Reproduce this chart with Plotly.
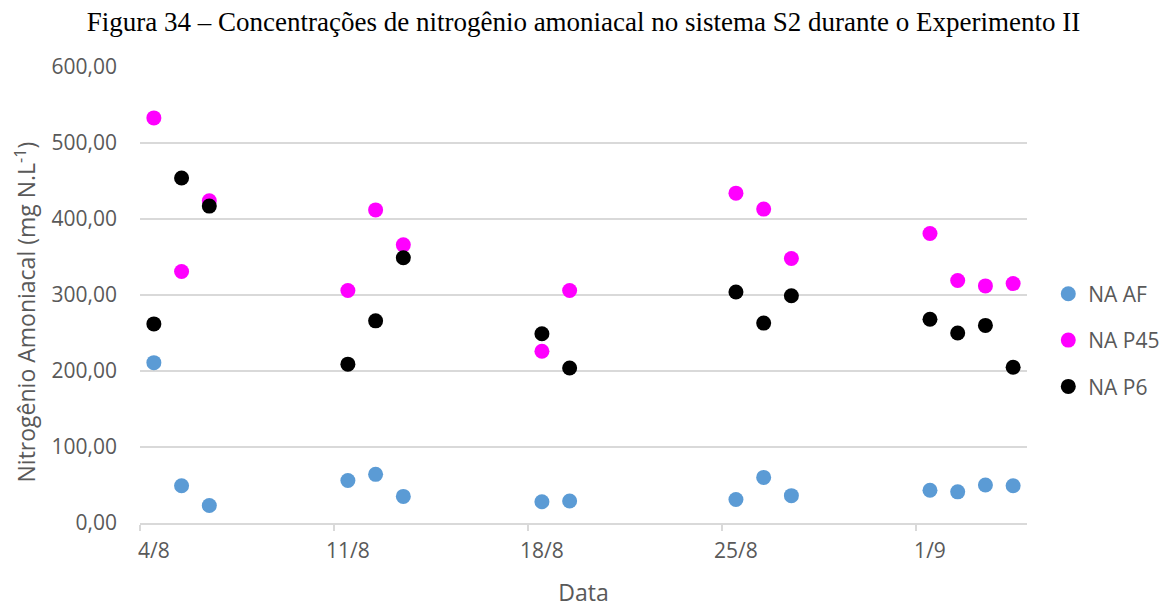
import plotly.graph_objects as go

dates = ["2023-08-04", "2023-08-05", "2023-08-06",
         "2023-08-11", "2023-08-12", "2023-08-13",
         "2023-08-18", "2023-08-19",
         "2023-08-25", "2023-08-26", "2023-08-27",
         "2023-09-01", "2023-09-02", "2023-09-03", "2023-09-04"]

na_af = [211, 49, 23, 56, 64, 35, 28, 29, 31, 60, 36, 43, 41, 50, 49]
na_p45 = [533, 331, 424, 306, 412, 366, 226, 306, 434, 413, 348, 381, 319, 312, 315]
na_p6 = [262, 454, 417, 209, 266, 349, 249, 204, 304, 263, 299, 268, 250, 260, 205]

tick_dates = ["2023-08-04", "2023-08-11", "2023-08-18", "2023-08-25", "2023-09-01"]
tick_labels = ["4/8", "11/8", "18/8", "25/8", "1/9"]

series = [("NA AF", na_af, "#5B9BD5"),
          ("NA P45", na_p45, "#FF00FF"),
          ("NA P6", na_p6, "#000000")]

fig = go.Figure()
for name, vals, color in series:
    fig.add_trace(go.Scatter(
        x=dates, y=vals, mode="markers", name=name, legendgroup=name,
        marker=dict(size=15, color=color, line=dict(width=0)),
    ))

txt = "#595959"
fig.update_layout(
    width=1161, height=600,
    margin=dict(l=132, r=142, t=59, b=85, autoexpand=False),
    paper_bgcolor="white", plot_bgcolor="white",
    separators=",.",
    font=dict(family="Open Sans", size=20, color=txt),
    title=dict(
        text="Figura 34 – Concentrações de nitrogênio amoniacal no sistema S2 durante o Experimento II",
        x=0.5, xref="paper", y=1 - 14 / 600, yref="container", xanchor="center", yanchor="middle",
        font=dict(family="Liberation Serif", size=27, color="black"),
    ),
    legend=dict(
        x=1.024, y=0.401, xanchor="left", yanchor="middle",
        font=dict(family="Open Sans", size=21, color=txt),
        tracegroupgap=16, itemsizing="trace", itemwidth=30,
    ),
    xaxis=dict(
        type="date",
        range=["2023-08-03 12:00", "2023-09-04 12:00"],
        tickvals=tick_dates, ticktext=tick_labels,
        ticks="", showgrid=False, ticklabelstandoff=8,
        showline=True, linecolor="#D9D9D9", linewidth=1.5,
        tickfont=dict(size=21, color=txt),
        minor=dict(ticks="outside", ticklen=6, tickcolor="#D9D9D9", tickwidth=1.5,
                   tick0="2023-08-03 12:00", dtick=7 * 86400000, showgrid=False),
        title=dict(text="Data", font=dict(size=23, color=txt), standoff=24),
        zeroline=False,
    ),
    yaxis=dict(
        range=[0, 600], dtick=100, tick0=0, tickformat=".2f",
        showgrid=True, gridcolor="#D9D9D9", gridwidth=1.5,
        zeroline=False, showline=False,
        ticks="", ticklabelstandoff=22,
        tickfont=dict(size=21, color=txt),
    ),
    annotations=[dict(
        text="Nitrogênio Amoniacal (mg N.L<sup>-1</sup>)",
        xref="paper", yref="paper", x=-0.129, y=0.463,
        xanchor="center", yanchor="middle", textangle=-90, showarrow=False,
        font=dict(family="Open Sans", size=23, color=txt),
    )],
)

fig.write_html("out.html")
